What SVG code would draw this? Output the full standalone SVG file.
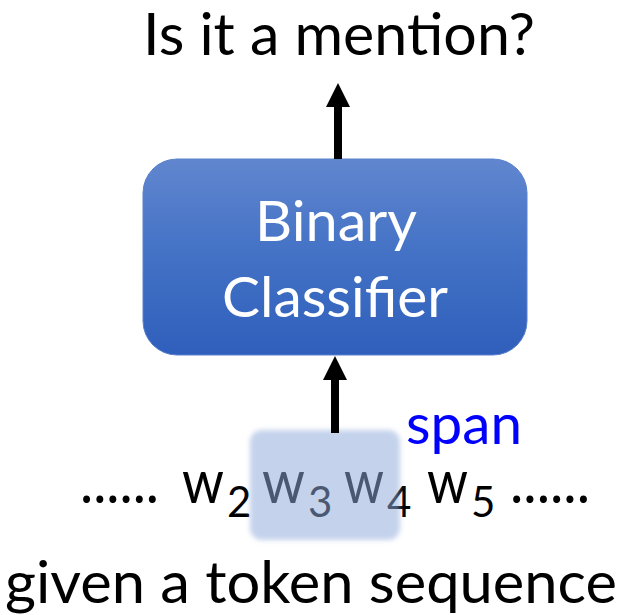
<svg xmlns="http://www.w3.org/2000/svg" width="623" height="615" viewBox="0 0 623 615">
  <style>
    text { font-family: Lato, "Open Sans", "Liberation Sans", sans-serif; }
    .big { font-size: 59px; fill: #000; }
    .label { font-size: 57px; fill: #fff; }
    .tok { font-size: 60px; fill: #000; }
    .sub { font-size: 42px; }
    .span { font-size: 57px; fill: #0000ff; }
    .conn { stroke: #000; stroke-width: 8; fill: none; }
  </style>
  <defs>
    <linearGradient id="boxFill" x1="0" y1="0" x2="0" y2="1">
      <stop offset="0" stop-color="#6186cf"/>
      <stop offset="0.5" stop-color="#4271c5"/>
      <stop offset="1" stop-color="#2f5fbb"/>
    </linearGradient>
    <filter id="soft" x="-10%" y="-10%" width="120%" height="120%">
      <feGaussianBlur stdDeviation="2.5"/>
    </filter>
    <marker id="head" markerUnits="userSpaceOnUse" markerWidth="24" markerHeight="24"
            refX="0" refY="12" orient="auto" viewBox="0 0 24 24">
      <path d="M0,0 L24,12 L0,24 Z" fill="#000"/>
    </marker>
  </defs>

  <!-- question on top -->
  <g id="output">
    <text class="big" x="143" y="55" textLength="392" lengthAdjust="spacingAndGlyphs">Is it a mention?</text>
  </g>

  <!-- classifier block -->
  <g id="classifier">
    <rect x="143" y="159" width="384" height="196" rx="34" ry="34" fill="url(#boxFill)" stroke="#5a80cc" stroke-width="1"/>
    <text class="label" x="336" y="241" text-anchor="middle" textLength="162" lengthAdjust="spacingAndGlyphs">Binary</text>
    <text class="label" x="335" y="317" text-anchor="middle" textLength="226" lengthAdjust="spacingAndGlyphs">Classifier</text>
  </g>

  <!-- token sequence: one text line, subscripts as lowered tspans -->
  <g id="tokens">
    <text class="tok" y="503"><tspan x="80" textLength="79" lengthAdjust="spacingAndGlyphs">......</tspan><tspan x="182" textLength="42" lengthAdjust="spacingAndGlyphs">w</tspan><tspan class="sub" x="227" dy="14">2</tspan><tspan x="262" dy="-14" textLength="43" lengthAdjust="spacingAndGlyphs">w</tspan><tspan class="sub" x="308" dy="14">3</tspan><tspan x="344" dy="-14" textLength="40" lengthAdjust="spacingAndGlyphs">w</tspan><tspan class="sub" x="387" dy="14">4</tspan><tspan x="427" dy="-14" textLength="41" lengthAdjust="spacingAndGlyphs">w</tspan><tspan class="sub" x="471" dy="14">5</tspan><tspan x="510" dy="-14" textLength="80" lengthAdjust="spacingAndGlyphs">......</tspan></text>
  </g>

  <!-- highlighted span -->
  <g id="span">
    <rect x="250" y="430" width="150" height="110" rx="12" ry="12" fill="#8ea9db" fill-opacity="0.52" filter="url(#soft)"/>
    <text class="span" x="406" y="444" textLength="116" lengthAdjust="spacingAndGlyphs">span</text>
  </g>

  <!-- caption -->
  <g id="caption">
    <text class="big" x="5" y="603" style="font-size:58px" textLength="612" lengthAdjust="spacingAndGlyphs">given a token sequence</text>
  </g>

  <!-- arrows -->
  <g id="connectors">
    <line class="conn" x1="338" y1="159" x2="338" y2="107" marker-end="url(#head)"/>
    <line class="conn" x1="335" y1="433" x2="335" y2="380" marker-end="url(#head)"/>
  </g>
</svg>
